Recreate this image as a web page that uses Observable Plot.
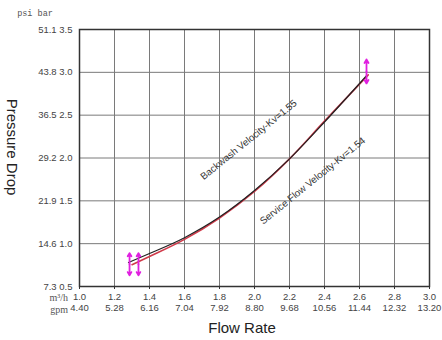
<!DOCTYPE html>
<html><head><meta charset="utf-8">
<script src="https://cdn.jsdelivr.net/npm/d3@7"></script>
<script src="https://cdn.jsdelivr.net/npm/@observablehq/plot@0.6"></script>
<style>body{margin:0;background:#fff}#c{width:442px;height:340px}</style>
</head><body><div id="c"></div><script>
// Tick values / labels
const flowTicks = [1.0, 1.2, 1.4, 1.6, 1.8, 2.0, 2.2, 2.4, 2.6, 2.8, 3.0];
const gpmLabels = ["4.40", "5.28", "6.16", "7.04", "7.92", "8.80", "9.68", "10.56", "11.44", "12.32", "13.20"];
const barTicks = [0.5, 1.0, 1.5, 2.0, 2.5, 3.0, 3.5];
const psiLabels = ["7.3", "14.6", "21.9", "29.2", "36.5", "43.8", "51.1"];

// Curves (flow m3/h, pressure drop bar)
const backwashFlow = [1.28, 1.4, 1.6, 1.8, 2.0, 2.2, 2.4, 2.64];
const backwashDrop = [0.78, 0.885, 1.07, 1.31, 1.62, 1.99, 2.42, 2.96];
const serviceFlow = [1.30, 1.4, 1.6, 1.8, 2.0, 2.2, 2.4, 2.65];
const serviceDrop = [0.755, 0.85, 1.05, 1.30, 1.61, 1.99, 2.43, 2.97];

// Curve labels
const labelTexts = ["Backwash Velocity-Kv=1.55", "Service Flow Velocity-Kv=1.54"];
const labelFlow = [1.71, 2.05];
const labelDrop = [1.74, 1.22];

// Range markers (double arrows): flow, centre, half-span
const markerFlow = [1.286, 1.337, 2.64];
const markerDrop = [0.76, 0.76, 3.01];
const markerHalf = [0.13, 0.13, 0.14];

const backwash = backwashFlow.map((q, i) => ({q, p: backwashDrop[i]}));
const service = serviceFlow.map((q, i) => ({q, p: serviceDrop[i]}));
const labels = labelTexts.map((t, i) => ({t, q: labelFlow[i], p: labelDrop[i]}));
const arrows = [];
markerFlow.forEach((q, i) => {
  arrows.push({q, p1: markerDrop[i], p2: markerDrop[i] + markerHalf[i]});
  arrows.push({q, p1: markerDrop[i], p2: markerDrop[i] - markerHalf[i]});
});

const chart = Plot.plot({
  width: 442, height: 340,
  marginLeft: 79, marginRight: 13, marginTop: 29, marginBottom: 54,
  style: {fontFamily: "Arial, 'Liberation Sans', sans-serif", background: "#fff"},
  x: {domain: [1, 3]},
  y: {domain: [0.5, 3.5]},
  marks: [
    Plot.gridX(flowTicks, {stroke: "#7a7a7a", strokeOpacity: 1, strokeWidth: 1}),
    Plot.gridY(barTicks, {stroke: "#7a7a7a", strokeOpacity: 1, strokeWidth: 1}),
    Plot.frame({stroke: "#333", strokeWidth: 1.5}),
    Plot.axisY(barTicks, {tickSize: 0, tickPadding: 7, fontSize: 9.5, fill: "#444",
      tickFormat: d => psiLabels[barTicks.indexOf(d)] + " " + d.toFixed(1), label: null}),
    Plot.axisX(flowTicks, {tickSize: 3, tickPadding: 4, fontSize: 9.5, fill: "#444", stroke: "#333",
      tickFormat: d => d.toFixed(1), label: null}),
    Plot.axisX(flowTicks, {tickSize: 0, tickPadding: 18, fontSize: 9.5, fill: "#444",
      tickFormat: d => gpmLabels[flowTicks.indexOf(d)], label: null}),
    Plot.line(service, {x: "q", y: "p", stroke: "#d03a4a", strokeWidth: 1.6, curve: "monotone-x"}),
    Plot.line(backwash, {x: "q", y: "p", stroke: "#222", strokeWidth: 1.2, curve: "monotone-x"}),
    Plot.arrow(arrows, {x1: "q", y1: "p1", x2: "q", y2: "p2", stroke: "#e020e0", strokeWidth: 1.8, headLength: 5}),
    Plot.text(labels, {x: "q", y: "p", text: "t", rotate: -39, textAnchor: "start", lineAnchor: "bottom",
      fontSize: 9.8, fill: "#333"})
  ]
});

const svg = d3.select(chart);
svg.append("text").attr("x", 35).attr("y", 16).attr("font-family", "'Liberation Mono', monospace")
  .attr("font-size", 8.5).attr("fill", "#555").text("psi bar");
svg.append("text").attr("x", 68).attr("y", 301).attr("text-anchor", "end")
  .attr("font-family", "'Liberation Serif', serif").attr("font-size", 10).attr("fill", "#555").text("m³/h");
svg.append("text").attr("x", 68).attr("y", 313).attr("text-anchor", "end")
  .attr("font-family", "'Liberation Serif', serif").attr("font-size", 10).attr("fill", "#555").text("gpm");
svg.append("text").attr("x", 242).attr("y", 333).attr("text-anchor", "middle")
  .attr("font-family", "Arial, 'Liberation Sans', sans-serif").attr("font-size", 15).attr("fill", "#222").text("Flow Rate");
svg.append("text").attr("transform", "translate(7,147) rotate(90)").attr("text-anchor", "middle")
  .attr("font-family", "Arial, 'Liberation Sans', sans-serif").attr("font-size", 15).attr("fill", "#222").text("Pressure Drop");

document.getElementById("c").appendChild(chart);
</script></body></html>
